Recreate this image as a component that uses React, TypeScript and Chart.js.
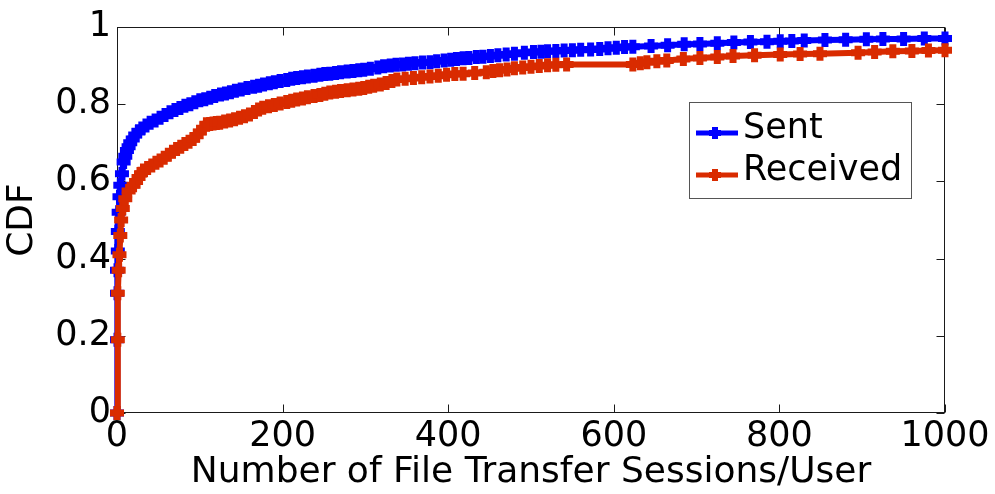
import { useEffect, useRef } from 'react';
import { Chart, registerables } from 'chart.js';

Chart.register(...registerables);

// Sessions per user (x) and cumulative fraction of users (y)
const sentX = [0, 0, 0, 0, 1, 1, 2, 3, 4, 6, 8, 10, 12, 14, 16, 19, 22, 26, 30, 35, 40, 46, 52, 58, 64, 70, 76, 82, 88, 94, 100, 106, 112, 118, 125, 131, 137, 143, 150, 157, 165, 171, 177, 184, 190, 197, 205, 211, 217, 224, 230, 238, 245, 251, 257, 264, 270, 278, 285, 292, 298, 306, 315, 322, 330, 337, 345, 352, 360, 369, 378, 386, 395, 403, 410, 418, 425, 434, 442, 451, 460, 470, 480, 492, 503, 512, 520, 530, 540, 550, 560, 572, 583, 593, 603, 613, 623, 645, 665, 685, 704, 725, 745, 765, 785, 801, 815, 830, 855, 880, 905, 925, 950, 975, 1000];
const sentY = [0, 0.19, 0.31, 0.37, 0.42, 0.47, 0.52, 0.56, 0.59, 0.62, 0.65, 0.665, 0.68, 0.69, 0.70, 0.71, 0.72, 0.73, 0.737, 0.745, 0.752, 0.758, 0.765, 0.772, 0.779, 0.785, 0.79, 0.796, 0.80, 0.805, 0.81, 0.813, 0.817, 0.821, 0.825, 0.828, 0.831, 0.835, 0.838, 0.842, 0.845, 0.848, 0.851, 0.854, 0.857, 0.86, 0.863, 0.866, 0.868, 0.87, 0.872, 0.874, 0.876, 0.878, 0.879, 0.881, 0.883, 0.885, 0.886, 0.888, 0.889, 0.892, 0.895, 0.898, 0.90, 0.902, 0.903, 0.905, 0.906, 0.908, 0.909, 0.911, 0.913, 0.915, 0.917, 0.919, 0.92, 0.922, 0.923, 0.925, 0.927, 0.929, 0.931, 0.933, 0.935, 0.936, 0.937, 0.938, 0.939, 0.94, 0.941, 0.942, 0.943, 0.945, 0.946, 0.948, 0.949, 0.951, 0.953, 0.955, 0.956, 0.958, 0.96, 0.961, 0.962, 0.963, 0.964, 0.965, 0.966, 0.967, 0.968, 0.969, 0.969, 0.97, 0.97];

const receivedX = [0, 1, 1, 2, 3, 4, 5, 7, 10, 14, 20, 23, 26, 29, 32, 37, 42, 47, 52, 57, 62, 67, 72, 77, 82, 87, 92, 96, 100, 104, 108, 112, 116, 120, 124, 130, 136, 142, 148, 154, 160, 166, 171, 176, 183, 190, 197, 205, 211, 217, 224, 230, 238, 245, 251, 257, 264, 270, 278, 285, 292, 298, 304, 310, 318, 325, 332, 338, 348, 358, 368, 378, 388, 398, 408, 418, 432, 446, 454, 462, 471, 480, 490, 500, 510, 520, 530, 543, 623, 632, 640, 652, 664, 684, 704, 725, 744, 770, 801, 825, 849, 895, 915, 937, 960, 980, 1000];
const receivedY = [0, 0.19, 0.31, 0.37, 0.41, 0.46, 0.5, 0.53, 0.555, 0.575, 0.59, 0.60, 0.61, 0.62, 0.628, 0.635, 0.641, 0.648, 0.654, 0.661, 0.669, 0.677, 0.684, 0.69, 0.697, 0.703, 0.71, 0.718, 0.728, 0.738, 0.748, 0.749, 0.75, 0.751, 0.752, 0.755, 0.758, 0.761, 0.765, 0.769, 0.773, 0.78, 0.786, 0.791, 0.795, 0.798, 0.802, 0.806, 0.809, 0.812, 0.815, 0.818, 0.821, 0.824, 0.827, 0.83, 0.832, 0.834, 0.836, 0.838, 0.84, 0.842, 0.845, 0.848, 0.851, 0.855, 0.86, 0.864, 0.866, 0.868, 0.87, 0.872, 0.874, 0.876, 0.878, 0.879, 0.881, 0.883, 0.886, 0.888, 0.89, 0.893, 0.895, 0.897, 0.899, 0.901, 0.902, 0.903, 0.903, 0.906, 0.909, 0.911, 0.913, 0.917, 0.92, 0.922, 0.925, 0.927, 0.929, 0.93, 0.931, 0.933, 0.935, 0.937, 0.938, 0.939, 0.94];

const seriesNames = ['Sent', 'Received'];
const seriesColors = ['#0000ff', '#d92b00'];

const xTickValues = [0, 200, 400, 600, 800, 1000];
const yTickLabels = ['0', '0.2', '0.4', '0.6', '0.8', '1'];

const xTitle = 'Number of File Transfer Sessions/User';
const yTitle = 'CDF';

const FONT = '"DejaVu Sans", sans-serif';

const toPoints = (xs: number[], ys: number[]) => xs.map((x, i) => ({ x, y: ys[i] }));

// Boxed axes with inward tick marks on all four sides
const framePlugin = {
  id: 'frame',
  beforeDatasetsDraw(chart: any) {
    const { ctx, chartArea: a, scales } = chart;
    const L = Math.round(a.left) + 0.5;
    const R = Math.round(a.right) - 0.5;
    const T = Math.round(a.top) + 0.5;
    const B = Math.round(a.bottom) - 0.5;
    const len = 8;
    ctx.save();
    ctx.strokeStyle = '#1a1a1a';
    ctx.lineWidth = 1;
    ctx.strokeRect(L, T, R - L, B - T);
    ctx.beginPath();
    scales.x.ticks.forEach((t: any) => {
      const px = Math.round(scales.x.getPixelForValue(t.value)) + 0.5;
      ctx.moveTo(px, B);
      ctx.lineTo(px, B - len);
      ctx.moveTo(px, T);
      ctx.lineTo(px, T + len);
    });
    scales.y.ticks.forEach((t: any) => {
      const py = Math.round(scales.y.getPixelForValue(t.value)) + 0.5;
      ctx.moveTo(L, py);
      ctx.lineTo(L + len, py);
      ctx.moveTo(R, py);
      ctx.lineTo(R - len, py);
    });
    ctx.stroke();
    ctx.restore();
  },
};

// Boxed legend in the upper right of the plot
const boxLegendPlugin = {
  id: 'boxLegend',
  afterDraw(chart: any) {
    const { ctx } = chart;
    const box = { x: 689, y: 102, w: 222, h: 96 };
    const rows = [133, 175];
    ctx.save();
    ctx.fillStyle = '#ffffff';
    ctx.fillRect(box.x, box.y, box.w, box.h);
    ctx.strokeStyle = '#555555';
    ctx.lineWidth = 1;
    ctx.strokeRect(box.x + 0.5, box.y + 0.5, box.w, box.h);
    chart.data.datasets.forEach((ds: any, i: number) => {
      const y = rows[i];
      ctx.strokeStyle = ds.borderColor;
      ctx.lineWidth = 5;
      ctx.beginPath();
      ctx.moveTo(696, y);
      ctx.lineTo(738, y);
      ctx.stroke();
      ctx.lineWidth = 6;
      ctx.beginPath();
      ctx.moveTo(715, y - 6);
      ctx.lineTo(715, y + 6);
      ctx.moveTo(709, y);
      ctx.lineTo(721, y);
      ctx.stroke();
      ctx.fillStyle = '#000000';
      ctx.font = `35px ${FONT}`;
      ctx.textBaseline = 'alphabetic';
      ctx.textAlign = 'left';
      ctx.fillText(ds.label, 743, y + 5);
    });
    ctx.restore();
  },
};

export default function App() {
  const canvasRef = useRef<HTMLCanvasElement | null>(null);

  useEffect(() => {
    const canvas = canvasRef.current;
    if (!canvas) return;
    const series = [toPoints(sentX, sentY), toPoints(receivedX, receivedY)];
    const chart = new Chart(canvas, {
      type: 'line',
      data: {
        datasets: series.map((pts, i) => ({
          label: seriesNames[i],
          data: pts,
          borderColor: seriesColors[i],
          backgroundColor: seriesColors[i],
          borderWidth: 6,
          pointStyle: 'cross',
          pointRadius: 7,
          pointBorderWidth: 7,
          pointBorderColor: seriesColors[i],
          pointBackgroundColor: seriesColors[i],
          tension: 0,
          fill: false,
          clip: false,
          order: 2 - i,
        })),
      },
      plugins: [framePlugin, boxLegendPlugin],
      options: {
        responsive: false,
        animation: false,
        devicePixelRatio: 1,
        layout: { padding: { top: 24, right: 50, left: 0, bottom: 0 } },
        plugins: {
          legend: { display: false },
          tooltip: { enabled: false },
        },
        scales: {
          x: {
            type: 'linear',
            min: 0,
            max: 1000,
            afterFit: (s: any) => {
              s.height = 81;
            },
            afterBuildTicks: (s: any) => {
              s.ticks = xTickValues.map((v) => ({ value: v }));
            },
            grid: { display: false, drawTicks: false },
            border: { display: false },
            ticks: {
              color: '#000000',
              font: { family: FONT, size: 35 },
              padding: 3,
              maxRotation: 0,
              autoSkip: false,
              callback: (v: any) => String(v),
            },
            title: {
              display: true,
              text: xTitle,
              color: '#000000',
              font: { family: FONT, size: 36 },
              padding: { top: 0, bottom: 0 },
            },
          },
          y: {
            type: 'linear',
            min: 0,
            max: 1,
            afterFit: (s: any) => {
              s.width = 117;
            },
            afterBuildTicks: (s: any) => {
              s.ticks = yTickLabels.map((_, i) => ({ value: i * 0.2 }));
            },
            grid: { display: false, drawTicks: false },
            border: { display: false },
            ticks: {
              color: '#000000',
              font: { family: FONT, size: 35 },
              padding: 6,
              autoSkip: false,
              callback: (_v: any, i: number) => yTickLabels[i],
            },
            title: {
              display: true,
              text: yTitle,
              color: '#000000',
              font: { family: FONT, size: 36 },
              padding: { top: 1, bottom: 0 },
            },
          },
        },
      },
    });
    return () => chart.destroy();
  }, []);

  return (
    <div style={{ position: 'fixed', left: 0, top: 0, width: 995, height: 494, background: '#ffffff' }}>
      <canvas ref={canvasRef} width={995} height={494} style={{ width: 995, height: 494, display: 'block' }} />
    </div>
  );
}
